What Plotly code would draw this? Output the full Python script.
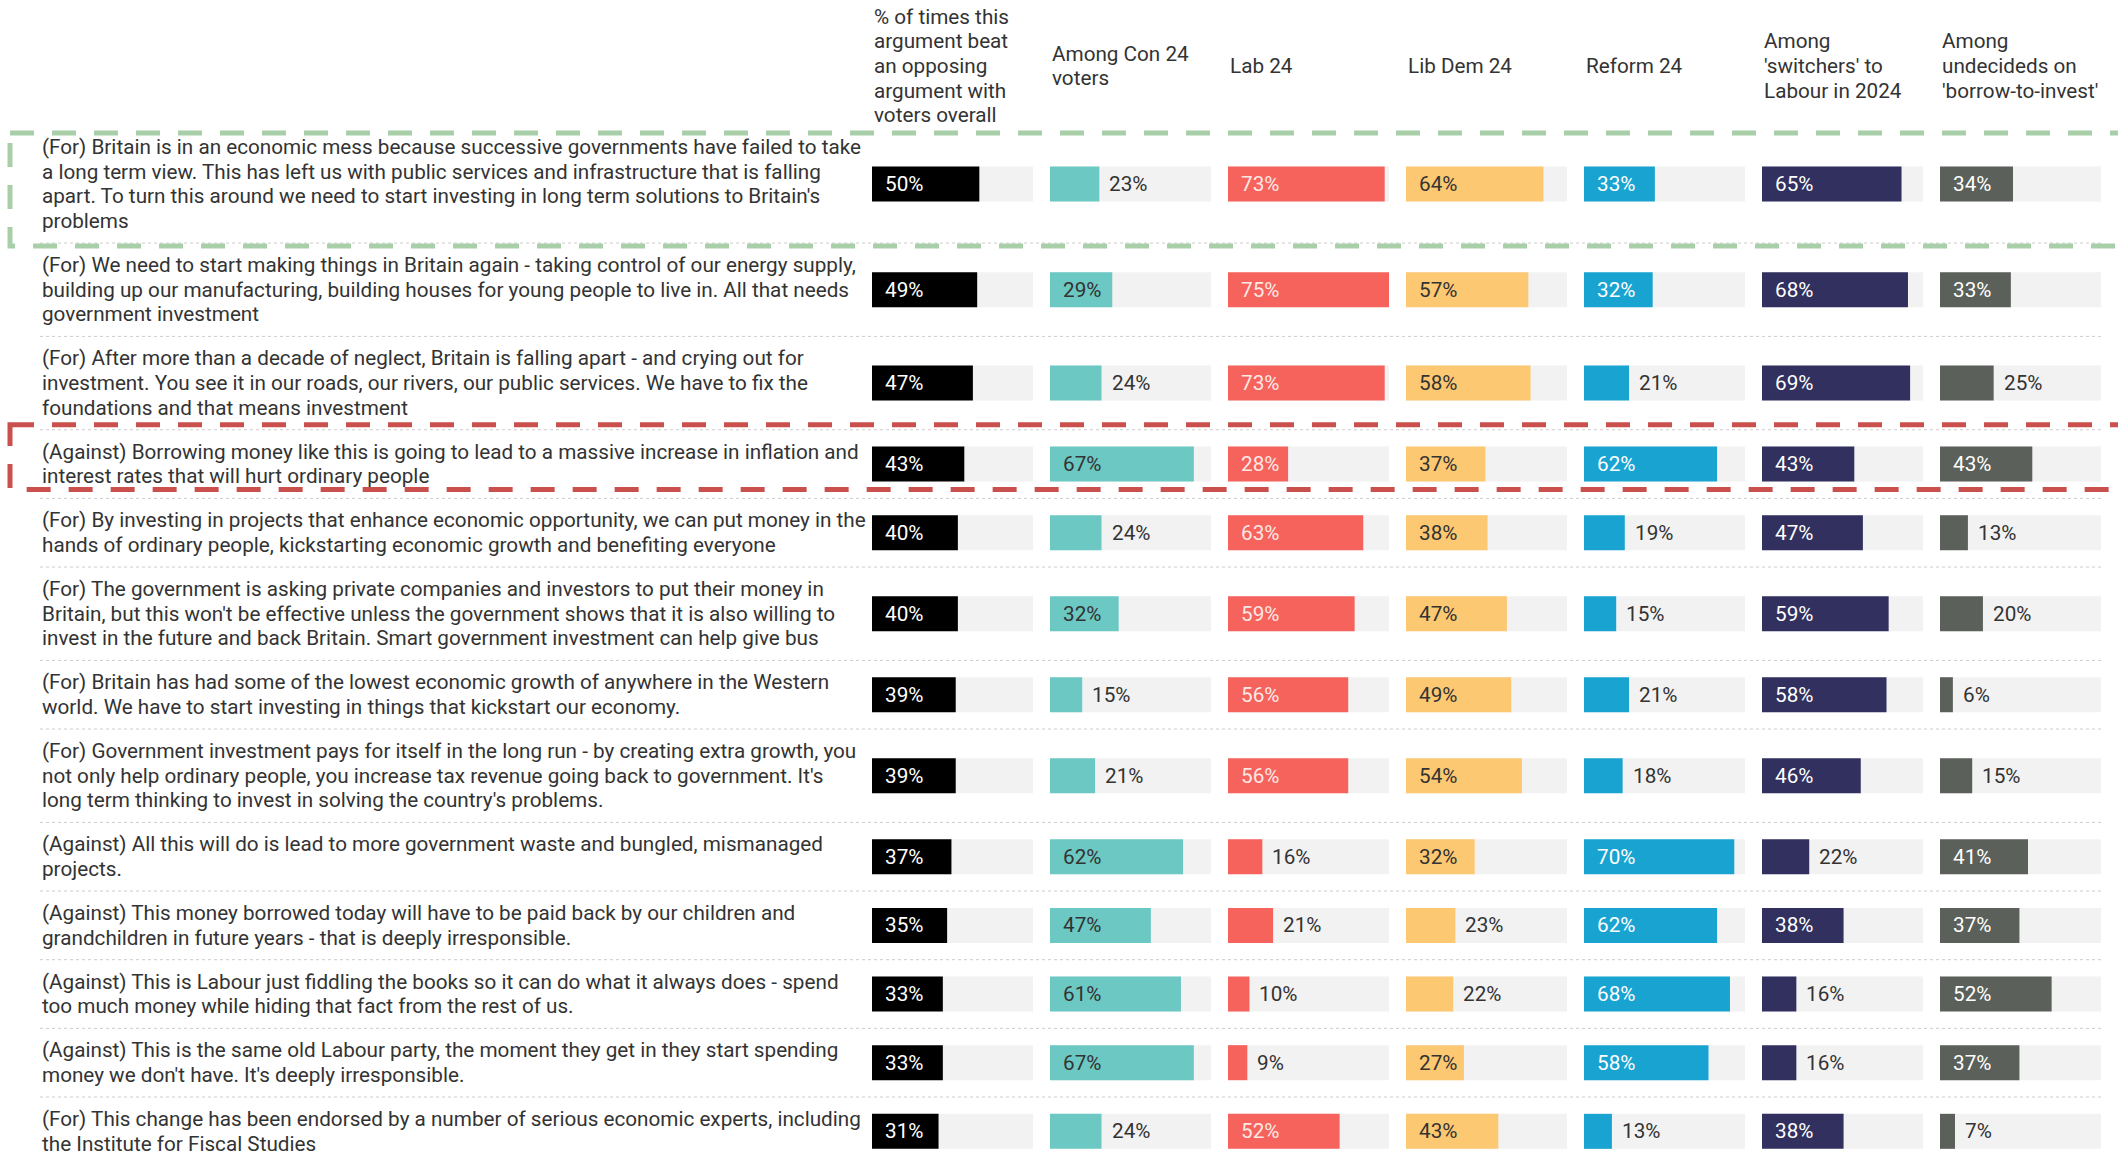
import plotly.graph_objects as go

# ---------------- data ----------------
arguments = [
    "(For) Britain is in an economic mess because successive governments have failed to take<br>a long term view. This has left us with public services and infrastructure that is falling<br>apart. To turn this around we need to start investing in long term solutions to Britain's<br>problems",
    "(For) We need to start making things in Britain again - taking control of our energy supply,<br>building up our manufacturing, building houses for young people to live in. All that needs<br>government investment",
    "(For) After more than a decade of neglect, Britain is falling apart - and crying out for<br>investment. You see it in our roads, our rivers, our public services. We have to fix the<br>foundations and that means investment",
    "(Against) Borrowing money like this is going to lead to a massive increase in inflation and<br>interest rates that will hurt ordinary people",
    "(For) By investing in projects that enhance economic opportunity, we can put money in the<br>hands of ordinary people, kickstarting economic growth and benefiting everyone",
    "(For) The government is asking private companies and investors to put their money in<br>Britain, but this won't be effective unless the government shows that it is also willing to<br>invest in the future and back Britain. Smart government investment can help give bus",
    "(For) Britain has had some of the lowest economic growth of anywhere in the Western<br>world. We have to start investing in things that kickstart our economy.",
    "(For) Government investment pays for itself in the long run - by creating extra growth, you<br>not only help ordinary people, you increase tax revenue going back to government. It's<br>long term thinking to invest in solving the country's problems.",
    "(Against) All this will do is lead to more government waste and bungled, mismanaged<br>projects.",
    "(Against) This money borrowed today will have to be paid back by our children and<br>grandchildren in future years - that is deeply irresponsible.",
    "(Against) This is Labour just fiddling the books so it can do what it always does - spend<br>too much money while hiding that fact from the rest of us.",
    "(Against) This is the same old Labour party, the moment they get in they start spending<br>money we don't have. It's deeply irresponsible.",
    "(For) This change has been endorsed by a number of serious economic experts, including<br>the Institute for Fiscal Studies",
]

column_headers = [
    "% of times this<br>argument beat<br>an opposing<br>argument with<br>voters overall",
    "Among Con 24<br>voters",
    "Lab 24",
    "Lib Dem 24",
    "Reform 24",
    "Among<br>'switchers' to<br>Labour in 2024",
    "Among<br>undecideds on<br>'borrow-to-invest'",
]

overall    = [50, 49, 47, 43, 40, 40, 39, 39, 37, 35, 33, 33, 31]
con24      = [23, 29, 24, 67, 24, 32, 15, 21, 62, 47, 61, 67, 24]
lab24      = [73, 75, 73, 28, 63, 59, 56, 56, 16, 21, 10, 9, 52]
libdem24   = [64, 57, 58, 37, 38, 47, 49, 54, 32, 23, 22, 27, 43]
reform24   = [33, 32, 21, 62, 19, 15, 21, 18, 70, 62, 68, 58, 13]
switchers  = [65, 68, 69, 43, 47, 59, 58, 46, 22, 38, 16, 16, 38]
undecided  = [34, 33, 25, 43, 13, 20, 6, 15, 41, 37, 52, 37, 7]

series = [overall, con24, lab24, libdem24, reform24, switchers, undecided]

highlight_green_row = 0
highlight_red_row = 3

# ---------------- styling ----------------
W, H = 2118, 1152
FONT = "Roboto, Open Sans, Liberation Sans, sans-serif"
FS = 20.7
TXT = "#333333"
bar_colors = ["#000000", "#6cc8c2", "#f5635c", "#fdc872", "#19a3d1", "#31305f", "#5b605a"]
inside_text_colors = ["#ffffff", "#333333", "#fde8e6", "#333333", "#ffffff", "#ffffff", "#ffffff"]
track_color = "#f2f2f2"
col_start = 872
col_pitch = 178
col_width = 161
track_max = 75
label_x = 40
line_h = 24.7
row_pad = 19.25
first_row_top = 125
header_center = 66
bar_h = 35
inside_threshold = 26

# row geometry derived from the number of text lines
row_tops, row_centers, row_bottoms = [], [], []
t = first_row_top
for lab in arguments:
    n = lab.count("<br>") + 1
    h = line_h * n + row_pad
    row_tops.append(t)
    row_centers.append(t + h / 2)
    row_bottoms.append(t + h)
    t += h


def line_annotations(text, xpaper, ycenter):
    parts = text.split("<br>")
    n = len(parts)
    out = []
    for k, part in enumerate(parts):
        out.append(dict(
            x=xpaper, y=ycenter + (k - (n - 1) / 2) * line_h, xref="paper", yref="y",
            text=part, showarrow=False, xanchor="left", yanchor="middle", align="left",
            font=dict(family=FONT, size=FS, color=TXT),
        ))
    return out


fig = go.Figure()
annotations = []
layout_axes = {}

for i, vals in enumerate(series):
    ax = "x" if i == 0 else f"x{i+1}"
    axkey = "xaxis" if i == 0 else f"xaxis{i+1}"
    x0 = col_start + i * col_pitch
    layout_axes[axkey] = dict(
        domain=[x0 / W, (x0 + col_width) / W], range=[0, track_max],
        visible=False, fixedrange=True,
    )
    fig.add_trace(go.Bar(
        x=[track_max] * len(vals), y=row_centers, orientation="h", width=bar_h,
        marker=dict(color=track_color, line=dict(width=0)), xaxis=ax, yaxis="y",
        hoverinfo="skip", showlegend=False,
    ))
    fig.add_trace(go.Bar(
        x=vals, y=row_centers, orientation="h", width=bar_h,
        marker=dict(color=bar_colors[i], line=dict(width=0)), xaxis=ax, yaxis="y",
        hoverinfo="skip", showlegend=False,
    ))
    for v, yc in zip(vals, row_centers):
        inside = v >= inside_threshold
        annotations.append(dict(
            x=0 if inside else v, y=yc, xref=ax, yref="y",
            text=f"{v}%", showarrow=False, xanchor="left", yanchor="middle",
            xshift=11 if inside else 8,
            font=dict(family=FONT, size=FS, color=inside_text_colors[i] if inside else TXT),
        ))
    annotations += line_annotations(column_headers[i], x0 / W, header_center)

for lab, yc in zip(arguments, row_centers):
    annotations += line_annotations(lab, label_x / W, yc)

shapes = []
for yb in row_bottoms:
    shapes.append(dict(type="line", xref="paper", yref="y", x0=label_x / W, x1=2104 / W,
                       y0=yb, y1=yb, line=dict(color="#cccccc", width=1, dash="dot"), layer="below"))

g = highlight_green_row
shapes.append(dict(type="rect", xref="paper", yref="y", x0=10 / W, x1=2140 / W,
                   y0=row_tops[g] + 8, y1=row_bottoms[g] + 3,
                   line=dict(color="#a9cfa9", width=5, dash="24px,18px"), fillcolor="rgba(0,0,0,0)"))
r = highlight_red_row
shapes.append(dict(type="rect", xref="paper", yref="y", x0=10 / W, x1=2140 / W,
                   y0=row_tops[r] - 5, y1=row_bottoms[r] - 9,
                   line=dict(color="#c9504d", width=5, dash="24px,18px"), fillcolor="rgba(0,0,0,0)"))

fig.update_layout(
    width=W, height=H, margin=dict(l=0, r=0, t=0, b=0),
    paper_bgcolor="white", plot_bgcolor="white",
    barmode="overlay", showlegend=False,
    yaxis=dict(range=[H, 0], domain=[0, 1], visible=False, fixedrange=True),
    annotations=annotations, shapes=shapes,
    font=dict(family=FONT, color=TXT),
    **layout_axes,
)

fig.write_html(
    "out.html",
    config={"displayModeBar": False},
    post_script="document.body.style.margin='0';document.body.style.overflow='hidden';",
)
